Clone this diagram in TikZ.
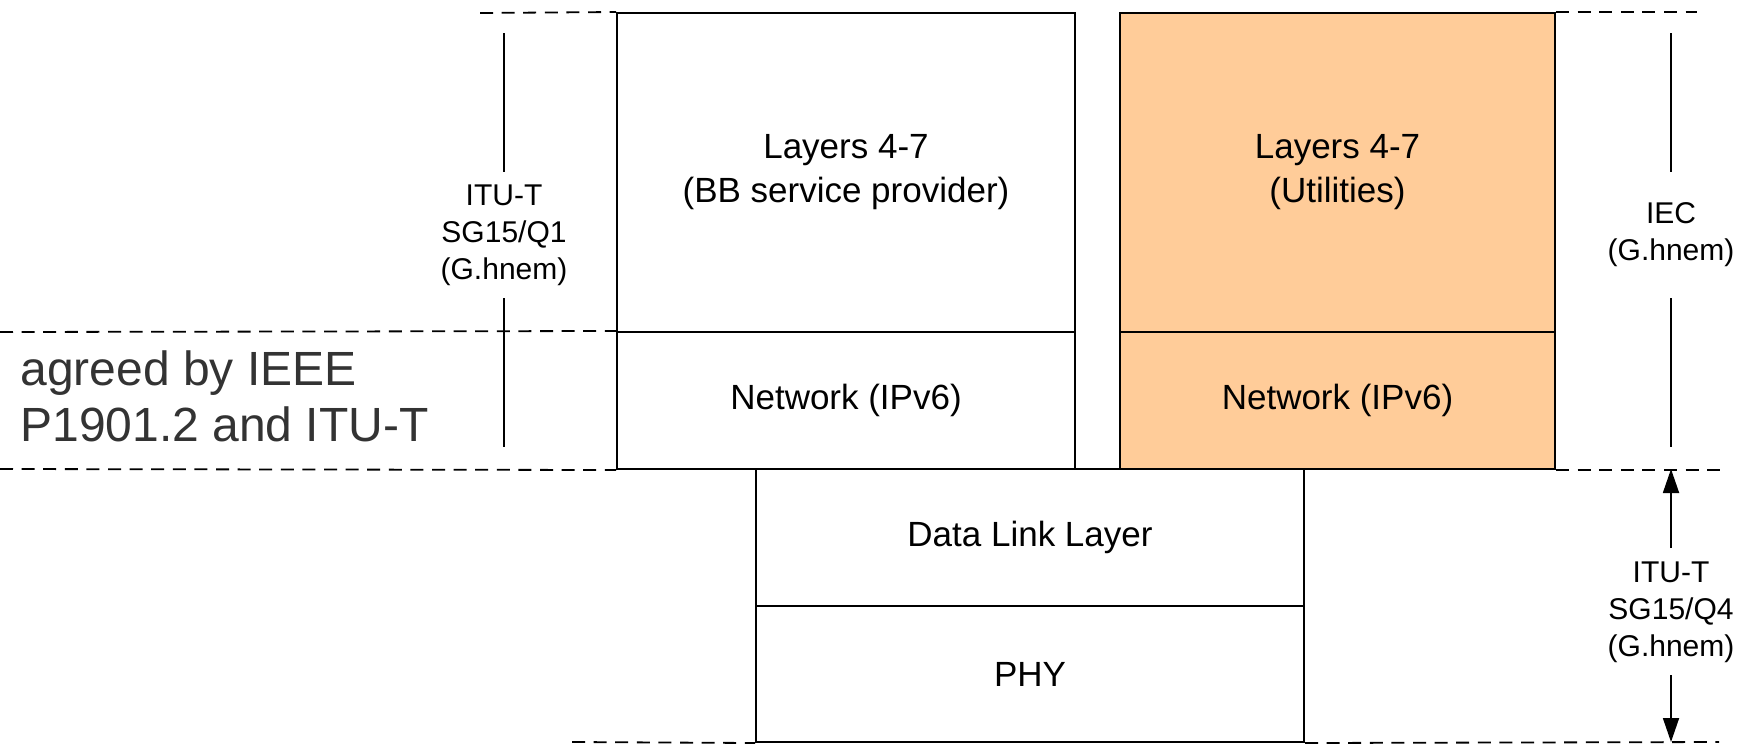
\documentclass[tikz,border=0pt]{standalone}
\usepackage{fontspec}
\setmainfont{Liberation Sans}
\usetikzlibrary{arrows.meta}
\definecolor{peach}{RGB}{255,204,153}
\begin{document}
\begin{tikzpicture}[x=0.5pt,y=-0.5pt,
  layerbox/.style={draw, line width=1pt, inner sep=0pt, align=center,
    font=\fontsize{17.5}{22}\selectfont},
  guide/.style={line width=0.9pt, dash pattern=on 6.5pt off 4.3pt},
  bracket/.style={line width=0.9pt},
  sdo/.style={inner sep=0pt, align=center, font=\fontsize{15}{18.5}\selectfont},
  tip/.style={-{Triangle[length=12pt,width=8pt]}}
]
\useasboundingbox (0,0) rectangle (1750,745);

% upper stack, broadband service provider
\node[layerbox, minimum width=229pt, minimum height=159.5pt] (bbtop) at (846,172.5)
  {Layers 4-7\\(BB service provider)};
\node[layerbox, minimum width=229pt, minimum height=68.5pt] (bbnet) at (846,400.5)
  {Network (IPv6)};

% upper stack, utilities
\node[layerbox, fill=peach, minimum width=217.5pt, minimum height=159.5pt] (uttop) at (1337.5,172.5)
  {Layers 4-7\\(Utilities)};
\node[layerbox, fill=peach, minimum width=217.5pt, minimum height=68.5pt] (utnet) at (1337.5,400.5)
  {Network (IPv6)};

% shared lower layers
\node[layerbox, minimum width=274pt, minimum height=68.5pt] (dll) at (1030,537.5)
  {Data Link Layer};
\node[layerbox, minimum width=274pt, minimum height=68pt] (phy) at (1030,674)
  {PHY};

% dashed boundary lines
\coordinate (g1a) at (480,13);   \draw[guide] (g1a) -- (bbtop.north west);
\draw[guide] (uttop.north east) -- ++(141,0) coordinate (g1b);
\coordinate (g2a) at (0,332);    \draw[guide] (g2a) -- (bbnet.north west);
\coordinate (g3a) at (0,469);    \draw[guide] (g3a) -- (bbnet.south west);
\draw[guide] (utnet.south east) -- ++(164,0) coordinate (g3b);
\coordinate (g4a) at (572,742);  \coordinate (g4b) at (1719,742);
\draw[guide] (g4a) -- (phy.south west);
\draw[guide] (phy.south east) -- (g4b);

% ITU-T SG15/Q1 span
\node[sdo] (q1) at (504,235) {ITU-T\\SG15/Q1\\(G.hnem)};
\coordinate (q1a) at (504,33);  \coordinate (q1b) at (504,172);
\coordinate (q1c) at (504,298); \coordinate (q1d) at (504,447);
\draw[bracket] (q1a) -- (q1b);
\draw[bracket] (q1c) -- (q1d);

% IEC span
\node[sdo] (iec) at (1671,235) {IEC\\(G.hnem)};
\coordinate (iea) at (1671,33);  \coordinate (ieb) at (1671,172);
\coordinate (iec1) at (1671,298); \coordinate (ied) at (1671,447);
\draw[bracket] (iea) -- (ieb);
\draw[bracket] (iec1) -- (ied);

% ITU-T SG15/Q4 span
\node[sdo] (q4) at (1671,612) {ITU-T\\SG15/Q4\\(G.hnem)};
\coordinate (q4a) at (1671,548); \coordinate (q4top) at (1671,469);
\coordinate (q4b) at (1671,675); \coordinate (q4bot) at (1671,742);
\draw[bracket, tip] (q4a) -- (q4top);
\draw[bracket, tip] (q4b) -- (q4bot);

% agreement note
\node[anchor=west, inner sep=0pt, align=left, text=black!80,
  font=\fontsize{24}{28}\selectfont] (note) at (20,396)
  {agreed by IEEE\\P1901.2 and ITU-T};
\end{tikzpicture}
\end{document}
